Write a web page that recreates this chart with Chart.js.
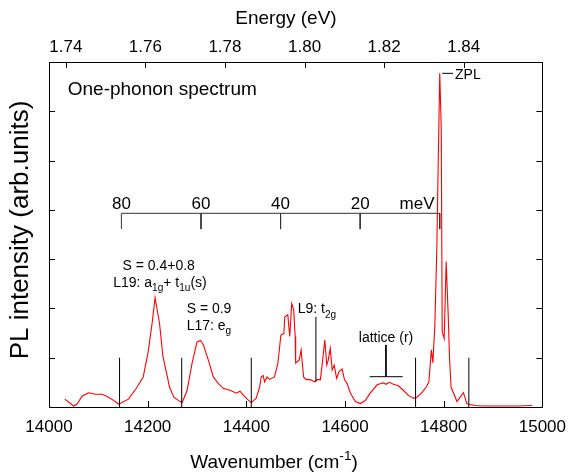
<!DOCTYPE html>
<html><head><meta charset="utf-8">
<script src="https://cdn.jsdelivr.net/npm/chart.js@4.4.0/dist/chart.umd.min.js"></script>
<style>html,body{margin:0;padding:0;background:#fff;}</style>
</head><body>
<canvas id="c" width="576" height="472"></canvas>
<script>
// ---- data ----
const wavenumber = [14032,14050,14057,14067,14080,14094,14107,14117,14130,14141,14146,14161,14177,14191,14201,14209,14215,14224,14231,14240,14244,14253,14266,14270,14280,14290,14300,14307,14313,14323,14333,14343,14353,14367,14380,14387,14394,14404,14410,14420,14427,14430,14434,14437,14442,14447,14457,14464,14470,14476,14478,14484,14488,14492,14496,14499,14500,14507,14511,14516,14521,14531,14538,14544,14550,14554,14559,14563,14566,14570,14574,14578,14583,14588,14594,14599,14604,14611,14621,14631,14641,14651,14665,14671,14678,14683,14690,14698,14708,14718,14728,14738,14745,14755,14765,14770,14775,14778,14782,14786,14789,14792,14795,14797,14801,14805,14809,14812,14815,14827,14840,14847,14852,14865,14879,14920,14950,14979];
const intensity  = [0.16,0.02,0.06,0.22,0.29,0.26,0.26,0.22,0.14,0.06,0.08,0.16,0.38,0.61,1.12,1.70,2.22,1.70,1.02,0.61,0.41,0.20,0.11,0.09,0.34,0.89,1.32,1.35,1.26,0.95,0.61,0.48,0.38,0.34,0.28,0.32,0.24,0.14,0.09,0.18,0.41,0.61,0.64,0.51,0.61,0.56,0.61,0.89,1.46,1.49,1.83,1.87,1.43,2.10,1.97,1.43,0.89,0.95,1.16,0.61,0.56,0.55,0.51,0.56,0.55,0.89,1.36,0.85,0.95,1.19,0.75,0.85,0.58,0.72,0.77,0.55,0.48,0.28,0.11,0.07,0.13,0.28,0.45,0.47,0.49,0.46,0.50,0.46,0.43,0.34,0.24,0.18,0.19,0.28,0.41,0.51,1.16,0.90,1.63,3.18,5.01,6.77,5.69,1.53,1.39,2.95,1.90,0.95,0.40,0.11,0.29,0.07,0.05,0.03,0.02,0.02,0.02,0.03];
const xTicks = [14000,14200,14400,14600,14800,15000];
const energyTicks = [1.74,1.76,1.78,1.80,1.82,1.84];
const yTicks = [0,1,2,3,4,5,6,7];
const markerWavenumbers = [14143,14269,14410,14743,14851];
const markerHeight = 1.0;
const zplWavenumber = 14792;
const meVTicks = [80,60,40,20];
const meVBarLevel = 3.93;
const meVTickBottom = 3.61;
const L9Wavenumber = 14541;
const L9Range = [0.51, 1.83];
const latticeCenter = 14683;
const latticeSpan = [14650, 14717];
const latticeLevel = 0.615;
const latticeTop = 1.26;
const zplDash = [14797, 14819];
const zplDashLevel = 6.77;
const cmPerEV = 8065.54;

const FONT = '"Liberation Sans", Arial, Helvetica, sans-serif';

// ---- build datasets ----
const spectrum = wavenumber.map((x, i) => ({x, y: intensity[i]}));
const markers = [];
markerWavenumbers.forEach(x => { markers.push({x, y: 0}, {x, y: markerHeight}, {x, y: null}); });
markers.push({x: L9Wavenumber, y: L9Range[0]}, {x: L9Wavenumber, y: L9Range[1]}, {x: L9Wavenumber, y: null});
markers.push({x: latticeCenter, y: latticeTop}, {x: latticeCenter, y: latticeLevel}, {x: latticeCenter, y: null});
markers.push({x: latticeSpan[0], y: latticeLevel}, {x: latticeSpan[1], y: latticeLevel}, {x: latticeSpan[1], y: null});
markers.push({x: zplDash[0], y: zplDashLevel}, {x: zplDash[1], y: zplDashLevel});

const meVx = m => zplWavenumber - m * cmPerEV / 1000;
const bar = [];
bar.push({x: meVx(80), y: meVTickBottom}, {x: meVx(80), y: meVBarLevel}, {x: zplWavenumber, y: meVBarLevel}, {x: zplWavenumber, y: meVTickBottom}, {x: zplWavenumber, y: null});
meVTicks.slice(1).forEach(m => { bar.push({x: meVx(m), y: meVBarLevel}, {x: meVx(m), y: meVTickBottom}, {x: meVx(m), y: null}); });

const annotations = [
  {segs: [{t: 'One-phonon spectrum'}], x: 14038, y: 6.33, size: 19},
  {segs: [{t: 'S = 0.4+0.8'}], x: 14149, y: 2.78, size: 14},
  {segs: [{t: 'L19: a'}, {t: '1g', sub: 1}, {t: '+ t'}, {t: '1u', sub: 1}, {t: '(s)'}], x: 14130, y: 2.44, size: 14},
  {segs: [{t: 'S = 0.9'}], x: 14279, y: 1.90, size: 14},
  {segs: [{t: 'L17: e'}, {t: 'g', sub: 1}], x: 14279, y: 1.56, size: 14},
  {segs: [{t: 'L9: t'}, {t: '2g', sub: 1}], x: 14504, y: 1.90, size: 14},
  {segs: [{t: 'lattice (r)'}], x: 14628, y: 1.32, size: 14},
  {segs: [{t: 'ZPL'}], x: 14823, y: 6.65, size: 14}
];

function drawRich(ctx, x, y, segs, size, align) {
  let total = 0;
  segs.forEach(s => {
    const fs = (s.sub || s.sup) ? size * 0.72 : size;
    ctx.font = fs + 'px ' + FONT;
    s.w = ctx.measureText(s.t).width; total += s.w;
  });
  let cx = align === 'center' ? x - total / 2 : x;
  segs.forEach(s => {
    const fs = (s.sub || s.sup) ? size * 0.72 : size;
    ctx.font = fs + 'px ' + FONT;
    ctx.textAlign = 'left'; ctx.textBaseline = 'alphabetic';
    const dy = s.sub ? size * 0.3 : (s.sup ? -size * 0.42 : 0);
    ctx.fillText(s.t, cx, y + dy);
    cx += s.w;
  });
}

const decor = {
  id: 'decor',
  afterDatasetsDraw(chart) {
    const ctx = chart.ctx, a = chart.chartArea;
    const xs = chart.scales.x, xt = chart.scales.x2, ys = chart.scales.y;
    ctx.save();
    ctx.strokeStyle = '#000'; ctx.lineWidth = 1;
    ctx.strokeRect(Math.round(a.left) + 0.5, Math.round(a.top) + 0.5, Math.round(a.right - a.left), Math.round(a.bottom - a.top));
    const T = 6;
    ctx.beginPath();
    xTicks.forEach(v => { const p = Math.round(xs.getPixelForValue(v)) + 0.5; ctx.moveTo(p, a.bottom); ctx.lineTo(p, a.bottom - T); });
    energyTicks.forEach(v => { const p = Math.round(xt.getPixelForValue(v)) + 0.5; ctx.moveTo(p, a.top); ctx.lineTo(p, a.top + T); });
    yTicks.forEach(v => { const p = Math.round(ys.getPixelForValue(v)) + 0.5; ctx.moveTo(a.left, p); ctx.lineTo(a.left + T, p); ctx.moveTo(a.right, p); ctx.lineTo(a.right - T, p); });
    ctx.stroke();
    ctx.fillStyle = '#000';
    annotations.forEach(an => drawRich(ctx, xs.getPixelForValue(an.x), ys.getPixelForValue(an.y), an.segs, an.size, 'left'));
    // meV scale labels
    meVTicks.forEach(m => drawRich(ctx, xs.getPixelForValue(meVx(m)), ys.getPixelForValue(4.02), [{t: String(m)}], 17, 'center'));
    drawRich(ctx, xs.getPixelForValue(meVx(5.7)), ys.getPixelForValue(4.02), [{t: 'meV'}], 17, 'center');
    // axis titles
    drawRich(ctx, 286, 24, [{t: 'Energy (eV)'}], 19, 'center');
    drawRich(ctx, 274, 468, [{t: 'Wavenumber (cm'}, {t: '-1', sup: 1}, {t: ')'}], 19, 'center');
    ctx.save();
    ctx.translate(28, 230); ctx.rotate(-Math.PI / 2);
    drawRich(ctx, 0, 0, [{t: 'PL intensity (arb.units)'}], 26, 'center');
    ctx.restore();
    ctx.restore();
  }
};

new Chart(document.getElementById('c'), {
  type: 'line',
  data: {
    datasets: [
      {data: markers, borderColor: '#000', borderWidth: 1, pointRadius: 0, spanGaps: false, tension: 0},
      {data: bar, borderColor: '#333', borderWidth: 1, pointRadius: 0, spanGaps: false, tension: 0},
      {data: spectrum, borderColor: '#ff0000', borderWidth: 1.1, pointRadius: 0, tension: 0}
    ]
  },
  options: {
    responsive: false, animation: false, devicePixelRatio: 1,
    layout: {padding: {left: 49, right: 29, top: 0, bottom: 0}},
    plugins: {legend: {display: false}, tooltip: {enabled: false}},
    scales: {
      x: {
        type: 'linear', position: 'bottom', min: 14000, max: 15000,
        afterBuildTicks: s => { s.ticks = xTicks.map(v => ({value: v})); },
        afterFit: s => { s.height = 65; },
        grid: {display: false, drawTicks: false}, border: {display: false},
        ticks: {color: '#000', font: {family: FONT, size: 17}, padding: 10, maxRotation: 0, autoSkip: false, callback: v => String(v)}
      },
      x2: {
        type: 'linear', position: 'top', min: 14000 / cmPerEV, max: 15000 / cmPerEV,
        afterBuildTicks: s => { s.ticks = energyTicks.map(v => ({value: v})); },
        afterFit: s => { s.height = 62; },
        grid: {display: false, drawTicks: false}, border: {display: false},
        ticks: {color: '#000', font: {family: FONT, size: 17}, padding: 4, maxRotation: 0, autoSkip: false, callback: v => v.toFixed(2)}
      },
      y: {min: 0, max: 7, display: false}
    }
  },
  plugins: [decor]
});
</script>
</body></html>
